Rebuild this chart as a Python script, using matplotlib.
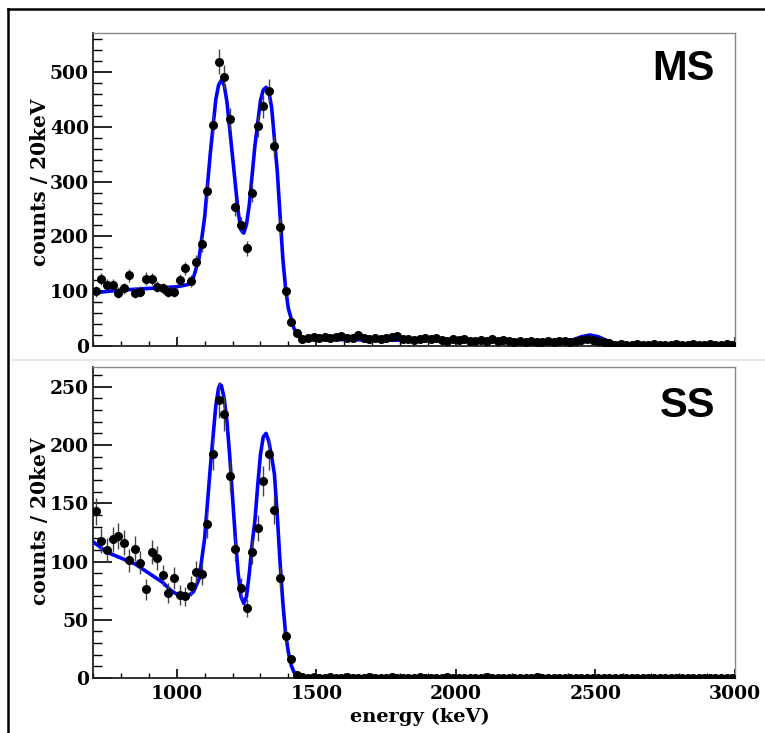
import numpy as np
import matplotlib
matplotlib.use("Agg")
import matplotlib.pyplot as plt
from matplotlib.ticker import MultipleLocator
from matplotlib.lines import Line2D

# Bin centres, 20 keV bins from 700 to 3000 keV
energy = np.arange(710, 3000, 20)

# Multi-site (MS) spectrum, counts per bin
ms_counts = [
    100, 122, 111, 111, 97, 105, 129, 97, 99, 123,
    122, 108, 105, 99, 99, 120, 142, 119, 154, 186,
    282, 404, 519, 491, 414, 254, 221, 178, 280, 402,
    437, 466, 364, 218, 100, 44, 24, 12,
    15, 16, 14, 17, 15, 16, 18, 14, 15, 20,
    14, 13, 15, 13, 14, 16, 18, 13, 12, 11,
    12, 14, 12, 15, 11, 10, 12, 11, 13, 10,
    9, 11, 10, 12, 9, 11, 10, 8, 9, 8,
    10, 8, 7, 9, 7, 10, 9, 8, 10, 11,
    12, 11, 10, 8, 5, 1, 3, 2, 2, 3,
    2, 2, 3, 2, 2, 2, 3, 2, 2, 3,
    2, 2, 3, 2, 2, 3, 2,
]

# Single-site (SS) spectrum, counts per bin
ss_counts = [
    143, 118, 110, 119, 122, 116, 101, 111, 99, 76,
    108, 103, 88, 73, 86, 71, 70, 79, 91, 89,
    132, 192, 239, 227, 173, 111, 77, 60, 108, 129,
    169, 192, 144, 86, 36, 16, 3, 1,
    0, 1, 0, 0, 1, 0, 0, 1, 0, 0,
    0, 1, 0, 0, 0, 1, 0, 0, 0, 0,
    1, 0, 0, 0, 0, 1, 0, 0, 0, 0,
    0, 0, 1, 0, 0, 0, 0, 0, 0, 0,
    0, 1, 0, 0, 0, 0, 0, 0, 0, 0,
    0, 0, 0, 0, 0, 0, 0, 0, 0, 0,
    0, 0, 0, 0, 0, 0, 0, 0, 0, 0,
    0, 0, 0, 0, 0, 0, 0,
]

# Fit curves
ms_fit_e = [700, 800, 900, 1000, 1040, 1060, 1080, 1100, 1120, 1140,
            1150, 1160, 1170, 1180, 1200, 1220, 1230, 1240, 1250, 1260,
            1280, 1300, 1310, 1320, 1330, 1340, 1360, 1380, 1390, 1400,
            1420, 1440, 1470, 1500, 1600, 1700, 1800, 1900, 2000, 2100,
            2200, 2300, 2380, 2420, 2450, 2480, 2510, 2540, 2570, 2600,
            3000]
ms_fit_v = [97, 102, 105, 108, 112, 125, 160, 235, 350, 450,
            476, 485, 476, 445, 345, 245, 212, 206, 222, 258,
            365, 448, 467, 472, 464, 435, 320, 160, 105, 68,
            32, 17, 12, 12, 11.5, 11, 10.5, 10, 9.5, 9,
            8.5, 8, 8, 11, 17, 20, 17, 10, 4, 2,
            1.5]

ss_fit_e = [700, 750, 800, 850, 900, 950, 980, 1000, 1020, 1040,
            1060, 1080, 1100, 1120, 1140, 1150, 1155, 1160, 1170, 1180,
            1190, 1200, 1210, 1220, 1230, 1240, 1250, 1260, 1270, 1280,
            1290, 1300, 1310, 1320, 1330, 1340, 1350, 1360, 1370, 1380,
            1390, 1400, 1410, 1420, 1430, 1450, 1500, 3000]
ss_fit_v = [117, 108, 103, 98, 90, 82, 75, 72, 70, 70.5,
            74, 85, 120, 180, 234, 249, 252, 251, 240, 220,
            190, 155, 120, 90, 70, 64, 70, 90, 115, 135,
            165, 192, 207, 210, 203, 190, 175, 140, 100, 65,
            38, 22, 11, 5, 2.5, 1, 0.5, 0.5]

serif = "DejaVu Serif"

fig = plt.figure(figsize=(7.65, 7.33), dpi=100)
ax_ms = fig.add_axes([93 / 765, 1 - 346 / 733, 642 / 765, 313 / 733])
ax_ss = fig.add_axes([93 / 765, 1 - 678 / 733, 642 / 765, 311 / 733])


def draw_panel(ax, counts, fit_e, fit_v, ymax, ymajor, yminor, tag, tag_y):
    counts = np.array(counts, dtype=float)
    ax.plot(fit_e, fit_v, color="#0000ff", lw=2.6, zorder=2)
    ax.errorbar(energy, counts, yerr=np.sqrt(counts), fmt="o", color="black",
                ecolor="#444444", elinewidth=1.0, ms=5.5, capsize=0, zorder=3)
    ax.set_xlim(700, 3000)
    ax.set_ylim(0, ymax)
    ax.xaxis.set_major_locator(MultipleLocator(500))
    ax.xaxis.set_minor_locator(MultipleLocator(100))
    ax.yaxis.set_major_locator(MultipleLocator(ymajor))
    ax.yaxis.set_minor_locator(MultipleLocator(yminor))
    ax.tick_params(axis="y", which="major", direction="in", length=13.5,
                   width=1.2, pad=3, right=False)
    ax.tick_params(axis="y", which="minor", direction="in", length=6.5,
                   width=1.0, right=False)
    ax.tick_params(axis="x", which="major", direction="in", length=6.5,
                   width=1.2, pad=5, top=False)
    ax.tick_params(axis="x", which="minor", direction="in", length=3.5,
                   width=1.0, top=False)
    for lab in ax.get_xticklabels() + ax.get_yticklabels():
        lab.set_fontfamily(serif)
        lab.set_fontweight("bold")
        lab.set_fontsize(13.5)
    for side in ["left", "bottom"]:
        ax.spines[side].set_color("#222222")
        ax.spines[side].set_linewidth(1.3)
    for side in ["top", "right"]:
        ax.spines[side].set_color("#888888")
        ax.spines[side].set_linewidth(1.0)
    ax.text(0.969, tag_y, tag, transform=ax.transAxes, ha="right",
            va="baseline", fontsize=30, fontweight="bold",
            family="Liberation Sans")


draw_panel(ax_ms, ms_counts, ms_fit_e, ms_fit_v, 571, 100, 20, "MS", 0.85)
draw_panel(ax_ss, ss_counts, ss_fit_e, ss_fit_v, 267, 50, 10, "SS", 0.839)
ax_ms.set_xticklabels([])

fig.text(40 / 765, 1 - 182 / 733, "counts / 20keV", rotation=90, ha="center",
         va="center", fontsize=14.5, fontweight="bold", family=serif)
fig.text(40 / 765, 1 - 521 / 733, "counts / 20keV", rotation=90, ha="center",
         va="center", fontsize=14.5, fontweight="bold", family=serif)
fig.text(420 / 765, 1 - 717 / 733, "energy (keV)", ha="center", va="center",
         fontsize=14, fontweight="bold", family=serif)

# outer frame (left and top edges) and panel separator
fig.add_artist(Line2D([8 / 765, 8 / 765], [0, 1 - 9 / 733], color="black",
                      lw=1.8, transform=fig.transFigure))
fig.add_artist(Line2D([8 / 765, 1], [1 - 9 / 733, 1 - 9 / 733], color="black",
                      lw=1.8, transform=fig.transFigure))
fig.add_artist(Line2D([12 / 765, 1], [1 - 360 / 733, 1 - 360 / 733],
                      color="#e6e6e6", lw=1.5, transform=fig.transFigure))

fig.savefig("out.png", dpi=100)
